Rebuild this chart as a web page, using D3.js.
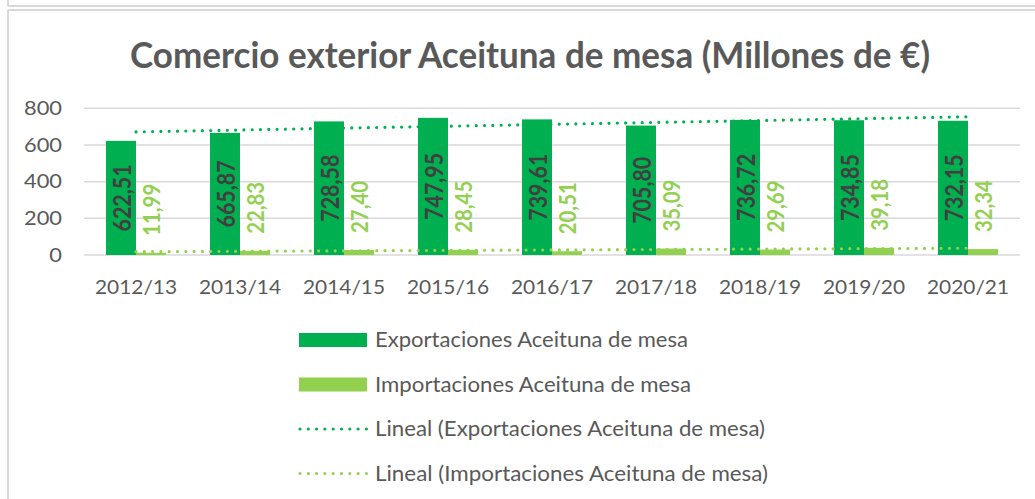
<!DOCTYPE html>
<html><head><meta charset="utf-8">
<script src="https://cdn.jsdelivr.net/npm/d3@7"></script>
<style>
html,body{margin:0;padding:0;background:#fff;}
svg{display:block;}
text{font-family:Lato,"Open Sans",sans-serif;}
</style></head>
<body>
<svg id="chart" width="1035" height="499"></svg>
<script>
const title = "Comercio exterior Aceituna de mesa (Millones de €)";
const categories = ["2012/13","2013/14","2014/15","2015/16","2016/17","2017/18","2018/19","2019/20","2020/21"];
const exportaciones = [622.51,665.87,728.58,747.95,739.61,705.80,736.72,734.85,732.15];
const importaciones = [11.99,22.83,27.40,28.45,20.51,35.09,29.69,39.18,32.34];
const yTicks = [0,200,400,600,800];
const seriesNames = ["Exportaciones Aceituna de mesa","Importaciones Aceituna de mesa"];
const trendNames = ["Lineal (Exportaciones Aceituna de mesa)","Lineal (Importaciones Aceituna de mesa)"];
const colExp = "#00B050", colImp = "#92D050";
const fmt = v => v.toFixed(2).replace(".", ",");

const svg = d3.select("#chart");

// frame
const frame = "#d9d9d9";
svg.append("line").attr("x1",8).attr("x2",1035).attr("y1",6).attr("y2",6).attr("stroke",frame).attr("stroke-width",2);
svg.append("line").attr("x1",8).attr("x2",8).attr("y1",0).attr("y2",6).attr("stroke",frame).attr("stroke-width",2);
svg.append("line").attr("x1",8).attr("x2",1035).attr("y1",10).attr("y2",10).attr("stroke",frame).attr("stroke-width",2);
svg.append("line").attr("x1",8).attr("x2",8).attr("y1",10).attr("y2",499).attr("stroke",frame).attr("stroke-width",2);

function fitTo(sel, target){
  sel.each(function(){
    const n = this.getComputedTextLength();
    d3.select(this).attr("textLength", target(n, this)).attr("lengthAdjust","spacingAndGlyphs");
  });
}

// title
const t = svg.append("text").attr("x",530).attr("y",68).attr("text-anchor","middle")
  .attr("font-size",36).attr("font-weight",700).attr("fill","#595959").text(title);
fitTo(t, () => 800);

const x0 = d3.scaleBand().domain(categories).range([84,1020]).padding(0);
const x1 = d3.scaleBand().domain(["exp","imp"]).range([22,82]).padding(0);
const y = d3.scaleLinear().domain([0,800]).range([255,108.3]);

// gridlines
const g = svg.append("g");
g.selectAll("line.grid").data(yTicks).join("line")
  .attr("x1",84).attr("x2",1020).attr("y1",d=>y(d)).attr("y2",d=>y(d))
  .attr("stroke","#d9d9d9").attr("stroke-width",1.5);

// y axis labels
const yl = g.selectAll("text.yt").data(yTicks).join("text")
  .attr("x",62).attr("y",d=>y(d)).attr("dy","0.36em").attr("text-anchor","end")
  .attr("font-size",19).attr("fill","#595959").text(d=>d);
let ref = yl.filter(d=>d===800).node().getComputedTextLength();
const ySx = 38/ref;
fitTo(yl, n => n*ySx);

// category labels
const xl = g.selectAll("text.xt").data(categories).join("text")
  .attr("x",d=>x0(d)+x0.bandwidth()/2).attr("y",294).attr("text-anchor","middle")
  .attr("font-size",19).attr("fill","#595959").text(d=>d);
fitTo(xl, () => 82);

// bars
const data = categories.map((c,i)=>({c, e:exportaciones[i], im:importaciones[i]}));
g.selectAll("rect.exp").data(data).join("rect")
  .attr("x",d=>x0(d.c)+x1("exp")).attr("width",x1.bandwidth())
  .attr("y",d=>y(d.e)).attr("height",d=>y(0)-y(d.e)).attr("fill",colExp);
g.selectAll("rect.imp").data(data).join("rect")
  .attr("x",d=>x0(d.c)+x1("imp")).attr("width",x1.bandwidth())
  .attr("y",d=>y(d.im)).attr("height",d=>y(0)-y(d.im)).attr("fill",colImp);

// trendlines
function linreg(vals){
  const xs = vals.map((v,i)=>i+1);
  const mx = d3.mean(xs), my = d3.mean(vals);
  let num=0, den=0;
  xs.forEach((xv,i)=>{num+=(xv-mx)*(vals[i]-my); den+=(xv-mx)*(xv-mx);});
  const b = num/den, a = my - b*mx;
  return xv => a + b*xv;
}
const line = d3.line().x(d=>d[0]).y(d=>d[1]);
[[exportaciones,colExp],[importaciones,colImp]].forEach(([vals,col])=>{
  const f = linreg(vals);
  const pts = [[x0(categories[0])+x0.bandwidth()/2, y(f(1))],
               [x0(categories[categories.length-1])+x0.bandwidth()/2, y(f(categories.length))]];
  g.append("path").attr("d",line(pts)).attr("fill","none").attr("stroke",col)
    .attr("stroke-width",3.2).attr("stroke-linecap","round").attr("stroke-dasharray","0 8.3");
});

// labels exports (centered, rotated)
const el = g.selectAll("text.el").data(data).join("text")
  .attr("transform",d=>`translate(${x0(d.c)+x1("exp")+x1.bandwidth()/2+1},${(y(d.e)+y(0))/2}) rotate(-90)`)
  .attr("text-anchor","middle").attr("dy","0.36em")
  .attr("font-size",24).attr("font-weight",700).attr("fill","#404040").text(d=>fmt(d.e));
ref = el.node().getComputedTextLength();
const eSx = 67/ref;
fitTo(el, n=>n*eSx);

// labels imports (outside end)
const il = g.selectAll("text.il").data(data).join("text")
  .attr("transform",d=>`translate(${x0(d.c)+x1("imp")+x1.bandwidth()/2+1},${y(d.im)-17}) rotate(-90)`)
  .attr("text-anchor","start").attr("dy","0.36em")
  .attr("font-size",23.5).attr("font-weight",700).attr("fill",colImp).text(d=>fmt(d.im));
ref = il.node().getComputedTextLength();
const iSx = 52/ref;
fitTo(il, n=>n*iSx);

// legend
const leg = svg.append("g");
const rowsY = [340,384.5,429,473.5];
const items = [
  {name:seriesNames[0], type:"rect", col:colExp, w:313},
  {name:seriesNames[1], type:"rect", col:colImp, w:316},
  {name:trendNames[0], type:"dot", col:colExp, w:390},
  {name:trendNames[1], type:"dot", col:colImp, w:393}
];
items.forEach((it,i)=>{
  const cy = rowsY[i];
  if(it.type==="rect"){
    leg.append("rect").attr("x",299).attr("y",cy-7).attr("width",68).attr("height",14).attr("fill",it.col);
  } else {
    leg.append("line").attr("x1",300).attr("x2",367).attr("y1",cy).attr("y2",cy)
      .attr("stroke",it.col).attr("stroke-width",3.2).attr("stroke-linecap","round").attr("stroke-dasharray","0 8.3");
  }
});
const lt = leg.selectAll("text").data(items).join("text")
  .attr("x",375).attr("y",(d,i)=>rowsY[i]).attr("dy","0.36em")
  .attr("font-size",20.5).attr("fill","#595959").text(d=>d.name);
fitTo(lt, (n,el)=>d3.select(el).datum().w);
</script>
</body></html>
